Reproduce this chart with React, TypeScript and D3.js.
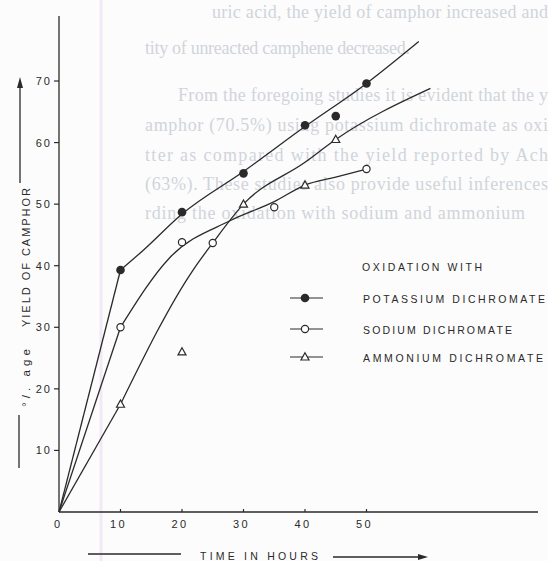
import React from "react";
import * as d3 from "d3";

// ---- data ----
const xTicks = [0, 10, 20, 30, 40, 50];
const yTicks = [10, 20, 30, 40, 50, 60, 70];

// measured points
const potassiumPts: [number, number][] = [[10, 39.3], [20, 48.7], [30, 55.0], [40, 62.8], [45, 64.3], [50, 69.6]];
const sodiumPts: [number, number][] = [[10, 30.0], [20, 43.8], [25, 43.7], [35, 49.5], [50, 55.7]];
const ammoniumPts: [number, number][] = [[10, 17.5], [20, 26.0], [30, 50.0], [40, 53.1], [45, 60.5]];

// drawn (fitted) curves
const potassiumCurve: [number, number][] = [[0, 0], [10, 39.3], [13.8, 42.6], [20, 48.4], [30, 55.3], [40, 62.6], [50, 69.6], [58.5, 76.4]];
const sodiumCurve: [number, number][] = [[0, 0], [10, 30.0], [18, 41.3], [27.8, 47.3], [35, 50.4], [40, 53.1], [45, 54.4], [50, 55.7]];
const ammoniumCurve: [number, number][] = [[0, 0], [10, 17.5], [21.8, 39.3], [25, 43.7], [30, 50.0], [40, 56.8], [45, 60.5], [60.4, 68.8]];

const legendItems = [
  { label: "POTASSIUM DICHROMATE", marker: "filled", len: 182 },
  { label: "SODIUM DICHROMATE", marker: "open", len: 149 },
  { label: "AMMONIUM DICHROMATE", marker: "tri", len: 180 },
];

const bgLines = [
  { t: "uric acid, the yield of camphor increased and", x: 212, y: 18, len: 336 },
  { t: "tity of unreacted camphene decreased.", x: 145, y: 54, len: 265 },
  { t: "From the foregoing studies it is evident that the y", x: 178, y: 101, len: 370 },
  { t: "amphor (70.5%) using potassium dichromate as oxi", x: 145, y: 131, len: 403 },
  { t: "tter as compared with the yield reported by Ach", x: 145, y: 161, len: 403 },
  { t: "(63%). These studies also provide useful inferences", x: 145, y: 190, len: 403 },
  { t: "rding the oxidation with sodium and ammonium", x: 145, y: 219, len: 380 },
];

const INK = "#2a2a2a";

function Marker({ kind, cx, cy }: { kind: string; cx: number; cy: number }) {
  if (kind === "filled") return <circle cx={cx} cy={cy} r={4.3} fill={INK} />;
  if (kind === "open") return <circle cx={cx} cy={cy} r={3.6} fill="#fff" stroke={INK} strokeWidth={1.2} />;
  return (
    <path
      d={`M${cx},${cy - 4.2}L${cx + 4},${cy + 3}L${cx - 4},${cy + 3}Z`}
      fill="#fff"
      stroke={INK}
      strokeWidth={1.2}
    />
  );
}

export default function App() {
  const x = d3.scaleLinear().domain([0, 50]).range([59, 366.5]);
  const y = d3.scaleLinear().domain([0, 70]).range([512, 81]);
  const straight = d3
    .line<[number, number]>()
    .x((d) => x(d[0]))
    .y((d) => y(d[1]));
  const smooth = d3
    .line<[number, number]>()
    .x((d) => x(d[0]))
    .y((d) => y(d[1]))
    .curve(d3.curveMonotoneX);

  const series = [
    { curve: potassiumCurve, pts: potassiumPts, kind: "filled" },
    { curve: sodiumCurve, pts: sodiumPts, kind: "open" },
    { curve: ammoniumCurve, pts: ammoniumPts, kind: "tri" },
  ];

  const font = "'Liberation Sans', Arial, sans-serif";
  const legendRows = [298, 329, 357];

  return (
    <svg
      width={548}
      height={561}
      style={{ position: "absolute", left: 0, top: 0, background: "#fcfcfc" }}
    >
      <rect x={0} y={0} width={548} height={561} fill="#fcfcfc" />
      {/* faint show-through text */}
      <g fontFamily="'Liberation Serif', 'Times New Roman', serif" fontSize={18} fill="#d0d4db">
        {bgLines.map((l, i) => (
          <text key={i} x={l.x} y={l.y} textLength={l.len} lengthAdjust="spacing">
            {l.t}
          </text>
        ))}
      </g>
      <line x1={101} y1={0} x2={101} y2={561} stroke="#f1e9f5" strokeWidth={3} />

      {/* axes */}
      <line x1={59} y1={16} x2={59} y2={512} stroke={INK} strokeWidth={1.3} />
      <line x1={59} y1={512} x2={538} y2={512} stroke={INK} strokeWidth={1.3} />
      {yTicks.map((t) => (
        <g key={t}>
          <line x1={54} y1={y(t)} x2={59} y2={y(t)} stroke={INK} strokeWidth={1.2} />
          <text
            x={52}
            y={y(t) + 4}
            textAnchor="end"
            fontFamily={font}
            fontSize={11}
            letterSpacing={2}
            fill={INK}
          >
            {t}
          </text>
        </g>
      ))}
      {xTicks.map((t) => (
        <g key={t}>
          {t > 0 && <line x1={x(t)} y1={509} x2={x(t)} y2={512} stroke={INK} strokeWidth={1.2} />}
          <text
            x={x(t) - 2}
            y={528}
            textAnchor="middle"
            fontFamily={font}
            fontSize={11}
            letterSpacing={t === 0 ? 0 : 2.5}
            fill={INK}
          >
            {t}
          </text>
        </g>
      ))}

      {/* curves: straight rise from the origin, then a smooth curve */}
      {series.map((s, i) => (
        <g key={i}>
          <path d={straight(s.curve.slice(0, 2)) || ""} fill="none" stroke={INK} strokeWidth={1.3} />
          <path d={smooth(s.curve.slice(1)) || ""} fill="none" stroke={INK} strokeWidth={1.3} />
        </g>
      ))}
      {series.map((s, i) =>
        s.pts.map((p, j) => <Marker key={`${i}-${j}`} kind={s.kind} cx={x(p[0])} cy={y(p[1])} />)
      )}

      {/* legend */}
      <text x={362} y={271} fontFamily={font} fontSize={10.5} fill={INK} textLength={120} lengthAdjust="spacing">
        OXIDATION WITH
      </text>
      {legendItems.map((it, i) => (
        <g key={it.label}>
          <line x1={290} y1={legendRows[i]} x2={323} y2={legendRows[i]} stroke={INK} strokeWidth={1.2} />
          <Marker kind={it.marker} cx={305} cy={legendRows[i]} />
          <text
            x={363}
            y={legendRows[i] + 4.5}
            fontFamily={font}
            fontSize={10.5}
            fill={INK}
            textLength={it.len}
            lengthAdjust="spacing"
          >
            {it.label}
          </text>
        </g>
      ))}

      {/* x axis title */}
      <line x1={88} y1={554} x2={181} y2={554} stroke={INK} strokeWidth={1.3} />
      <text x={200} y={560} fontFamily={font} fontSize={10.5} fill={INK} textLength={118} lengthAdjust="spacing">
        TIME IN HOURS
      </text>
      <line x1={333} y1={557} x2={420} y2={557} stroke={INK} strokeWidth={1.3} />
      <path d="M428,557L418,554L418,560Z" fill={INK} />

      {/* y axis title */}
      <line x1={20} y1={183} x2={20} y2={86} stroke={INK} strokeWidth={1.3} />
      <path d="M20,77L17,88L23,88Z" fill={INK} />
      <line x1={19} y1={415} x2={19} y2={468} stroke={INK} strokeWidth={1.3} />
      <g transform="translate(30,407) rotate(-90)">
        <text x={0} y={0} fontFamily={font} fontSize={11.5} fill={INK} textLength={58} lengthAdjust="spacing">
          °/. age
        </text>
        <text x={80} y={0} fontFamily={font} fontSize={11} fill={INK} textLength={139} lengthAdjust="spacing">
          YIELD OF CAMPHOR
        </text>
      </g>
    </svg>
  );
}
